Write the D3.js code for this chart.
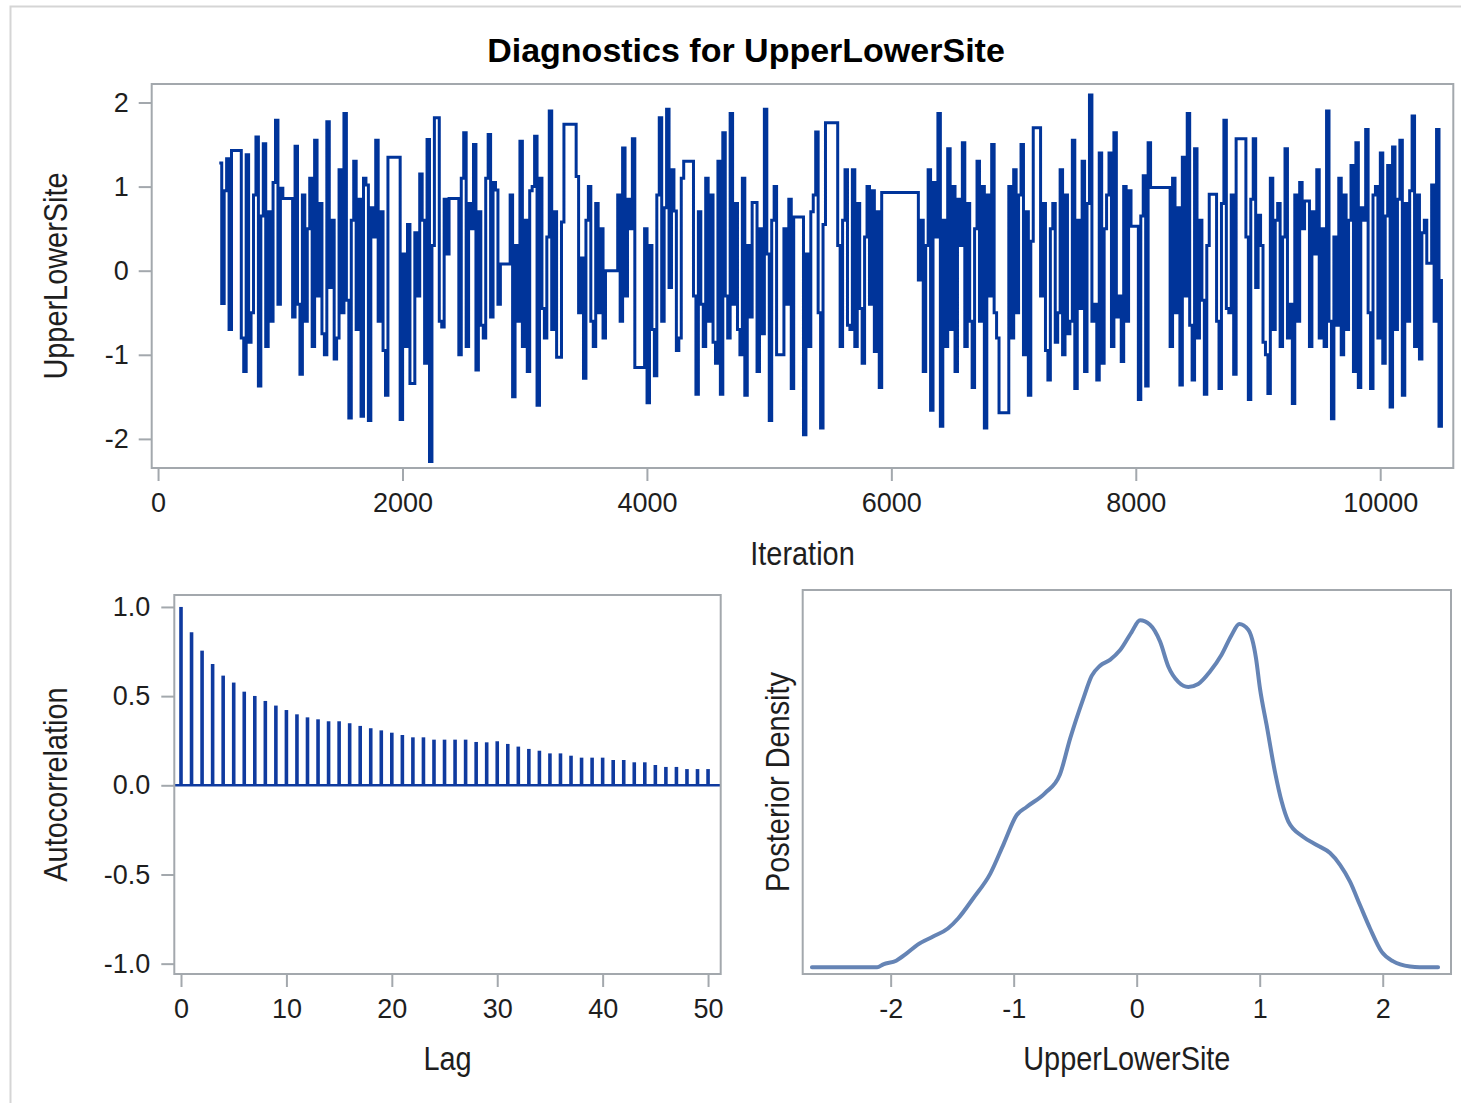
<!DOCTYPE html>
<html>
<head>
<meta charset="utf-8">
<script src="https://cdn.jsdelivr.net/npm/d3@7"></script>
<style>
    body { margin: 0; background: #ffffff; }
</style>
</head>
<body>
<script>
let svgWidth = 1461;
let svgHeight = 1103;

let fontFamily = '"Liberation Sans", Arial, sans-serif';
let frameColor = "#a3a8ad";
let textColor = "#1e1e1e";
let traceColor = "#00349a";
let densityColor = "#6584b5";

let titleText = "Diagnostics for UpperLowerSite";
let paramName = "UpperLowerSite";

// trace: chain thinned to one value every 20 iterations
let traceStart = 501;
let traceThin = 20;
let traceValues = [
    1.28, -0.39, 0.95, 1.33, -0.70,   1.43, 1.43, 1.43, 1.43, -0.80,
    -1.20, 1.38, -0.85, -0.50, 0.90,  1.59, -1.37, 0.65, 1.51, -0.90,
    0.70, -0.60, 1.05, 1.79, -0.40,   0.98, 0.86, 0.86, 0.86, 0.86,
    -0.55, 1.48, -0.40, -1.23, 0.90,  -0.60, 0.50, 1.10, -0.90, 1.55,
    -0.30, 0.80, -0.75, -1.00, 1.77,  -0.20, 0.60, -1.05, -0.80, 1.20,
    -0.50, 1.87, -0.35, -1.75, 0.60,  1.30, -0.70, 0.85, -1.73, 1.10,
    1.02, -1.78, 0.75, 0.40, 1.55,    -0.60, 0.70, -0.95, -1.48, 1.35,
    1.35, 1.35, 1.35, 1.35, -1.77,    0.20, -0.90, 0.55, -1.34, -1.34,
    0.45, -0.30, 1.15, 0.60, -1.10,   1.56, -2.27, 0.30, 1.82, 1.82,
    -0.60, -0.67, 0.85, 0.20, 0.86,   0.86, 0.86, 0.86, -1.00, 1.10,
    1.64, -0.90, 0.80, 0.50, 1.50,    -1.18, 0.70, -0.65, -0.80, 1.10,
    1.62, -0.55, 1.05, 0.96, -0.40,   0.08, 0.08, 0.08, 0.08, 0.90,
    -1.50, 0.30, -0.60, 1.54, -0.90,  0.60, -1.20, 0.95, 1.00, 1.60,
    -1.60, 1.10, -0.45, -0.80, 0.40,  1.90, -0.70, 0.70, -1.03, -1.03,
    0.58, 1.74, 1.74, 1.74, 1.74,     1.74, 1.12, -0.50, 0.15, -1.28,
    0.60, 1.00, -0.60, -0.90, 0.80,   -0.50, 0.50, -0.80, 0.00, 0.00,
    0.00, 0.00, 0.00, 0.90, -0.60,    1.46, -0.30, 0.85, 0.50, 1.57,
    -1.15, -1.15, -1.15, -1.15, 0.50, -1.57, 0.30, -0.70, -1.25, 0.90,
    1.82, -0.60, 0.75, 1.92, -0.20,   1.20, 0.71, -0.95, -0.80, 1.10,
    1.30, 1.30, 1.30, 1.30, -0.30,    -1.47, 0.70, -0.40, -0.90, 1.10,
    -0.60, 0.90, -0.85, -1.10, 1.30,  -1.47, 1.64, -0.30, -0.80, 1.87,
    -0.40, 0.80, -0.70, -1.00, 1.10,  -1.48, 0.30, -0.55, 0.81, 0.81,
    -1.20, 0.50, -0.75, 1.92, 0.20,   -1.78, 0.60, 1.00, -1.00, -1.00,
    -1.00, 0.50, -0.40, 0.85, -1.40,  0.64, 0.64, 0.64, 0.64, -1.95,
    0.20, -0.90, 0.70, 0.90, 1.65,    -0.50, -1.87, 0.55, 1.76, 1.76,
    1.76, 1.76, 1.76, 0.30, -0.90,    0.60, 1.20, -0.65, -0.70, 1.20,
    -0.90, 0.80, -0.45, -1.10, 0.40,  1.00, -0.40, 0.95, -0.96, 0.70,
    -1.39, 0.93, 0.93, 0.93, 0.93,    0.93, 0.93, 0.93, 0.93, 0.93,
    0.93, 0.93, 0.93, 0.93, 0.93,     0.93, -0.11, 0.60, -1.20, 0.30,
    1.20, -1.66, 1.05, 0.40, 1.87,    -1.85, 0.60, -0.90, 1.45, -0.70,
    1.00, -1.20, 0.85, 0.30, 1.52,    -0.90, 0.80, -0.60, -1.39, 0.50,
    1.30, -0.60, 1.00, -1.87, 0.90,   -0.30, 1.50, -0.50, -0.80, -1.69,
    -1.69, -1.69, -1.69, 1.00, -0.80, 1.20, -0.50, 0.90, 1.50, -1.00,
    0.70, -1.48, 0.35, 1.70, 1.70,    1.70, -0.30, 0.80, -0.95, -1.30,
    0.50, 0.80, -0.85, -0.50, 1.20,   -1.00, 0.90, -0.75, -0.60, 1.55,
    -1.40, 0.60, -0.45, 1.30, -1.20,  0.80, 2.09, -0.60, -0.40, -1.30,
    1.40, -1.10, 0.50, 0.90, 1.40,    -0.90, 1.64, -0.55, -0.30, -1.08,
    1.00, -0.60, 0.95, 0.53, 0.53,    0.53, -1.53, 0.65, 1.13, -1.37,
    1.52, 0.99, 0.99, 0.99, 0.99,     0.99, 0.99, 0.99, 0.99, -0.90,
    1.10, -0.50, 0.75, -1.36, 1.35,   -0.30, 1.87, -0.65, -1.30, 1.45,
    -0.80, 0.60, -0.35, -1.47, 0.30,  0.91, 0.91, 0.91, -0.60, -1.40,
    0.80, 1.79, -0.45, -0.50, 0.90,   -1.23, 1.57, 1.57, 1.57, 1.57,
    0.40, -1.53, 0.85, 1.57, -0.20,   0.66, 0.30, -0.85, -1.00, -1.46,
    1.10, -0.70, 0.60, 0.80, -0.90,   0.40, 1.45, -0.80, -0.40, -1.58,
    0.90, -0.60, 1.05, 0.50, 0.83,    0.83, -0.90, 0.70, 0.20, 1.20,
    -0.80, 0.50, -0.90, 1.90, -0.60,  -1.76, 0.40, -0.65, 1.10, -1.00,
    0.90, -0.70, 0.60, 1.25, -1.20,   1.52, -1.39, 0.75, 0.60, 1.68,
    -0.50, -1.40, 0.90, 1.00, -0.80,  1.40, -1.10, 0.65, 1.25, -1.62,
    1.47, -0.70, 0.85, 1.55, -1.48,   0.80, -0.60, 0.95, 1.84, -0.90,
    0.90, -1.05, 0.45, 0.60, 0.09,    0.09, 1.02, -0.60, 1.68, -1.85,
    -0.10
];
let traceXTicks = [0, 2000, 4000, 6000, 8000, 10000];
let traceYTicks = [-2, -1, 0, 1, 2];

// autocorrelation for lags 0..50
let acfValues = [
    1.000, 0.858, 0.755, 0.680, 0.615, 0.576, 0.525, 0.501, 0.473, 0.447,
    0.422, 0.398, 0.381, 0.370, 0.359, 0.359, 0.348, 0.333, 0.320, 0.308,
    0.295, 0.282, 0.269, 0.269, 0.256, 0.256, 0.256, 0.256, 0.243, 0.241,
    0.247, 0.232, 0.217, 0.204, 0.194, 0.179, 0.179, 0.166, 0.155, 0.155,
    0.155, 0.142, 0.142, 0.129, 0.129, 0.114, 0.103, 0.103, 0.091, 0.091,
    0.091
];
let acfXTicks = [0, 10, 20, 30, 40, 50];
let acfYTicks = [-1, -0.5, 0, 0.5, 1];

// kernel density of the posterior sample
let densityX = [
    -2.64, -2.11, -2.06, -1.955, -1.87, -1.78, -1.655, -1.535, -1.45, -1.33,
    -1.19, -1.08, -0.975, -0.895, -0.745, -0.625, -0.54, -0.434, -0.366, -0.298,
    -0.217, -0.136, -0.041, 0.027, 0.108, 0.19, 0.257, 0.338, 0.42, 0.50,
    0.596, 0.69, 0.772, 0.834, 0.907, 0.97, 1.002, 1.056, 1.124, 1.179,
    1.233, 1.355, 1.463, 1.572, 1.653, 1.734, 1.815, 1.897, 1.992, 2.086,
    2.222, 2.30, 2.45
];
let densityY = [
    0.000, 0.000, 0.004, 0.009, 0.019, 0.031, 0.042, 0.053, 0.067, 0.094,
    0.128, 0.169, 0.208, 0.219, 0.238, 0.263, 0.313, 0.367, 0.398, 0.412,
    0.420, 0.433, 0.458, 0.474, 0.468, 0.445, 0.411, 0.390, 0.383, 0.387,
    0.404, 0.427, 0.454, 0.469, 0.461, 0.422, 0.381, 0.331, 0.267, 0.226,
    0.199, 0.178, 0.167, 0.156, 0.140, 0.117, 0.085, 0.053, 0.021, 0.008,
    0.001, 0.000, 0.000
];
let densityXTicks = [-2, -1, 0, 1, 2];

// panel frames
let tracePanel = { left: 151.7, right: 1453.3, top: 84, bottom: 468 };
let acfPanel = { left: 174.3, right: 720.7, top: 595, bottom: 974 };
let densityPanel = { left: 802.7, right: 1451, top: 590, bottom: 974 };

let svg = d3.select('body')
    .append("svg")
    .attr("width", svgWidth)
    .attr("height", svgHeight)
    .style("font-family", fontFamily);

// outer graph border
svg.append("rect")
    .attr("x", 10.5)
    .attr("y", 6.5)
    .attr("width", 1490)
    .attr("height", 1130)
    .attr("fill", "none")
    .attr("stroke", "#d5d5d5")
    .attr("stroke-width", 2);

svg.append("text")
    .attr("x", 746)
    .attr("y", 62)
    .attr("text-anchor", "middle")
    .attr("font-size", 34)
    .attr("font-weight", "bold")
    .attr("fill", "#000")
    .text(titleText);

function drawFrame(p) {
    svg.append("rect")
        .attr("x", p.left)
        .attr("y", p.top)
        .attr("width", p.right - p.left)
        .attr("height", p.bottom - p.top)
        .attr("fill", "none")
        .attr("stroke", frameColor)
        .attr("stroke-width", 2);
}

function styleAxis(g) {
    g.attr("font-size", 27).attr("font-family", fontFamily);
    g.select(".domain").remove();
    g.selectAll(".tick line")
        .attr("stroke", frameColor)
        .attr("stroke-width", 2);
    g.selectAll(".tick text").attr("fill", textColor);
}

function axisTitle(x, y, label, rotated) {
    svg.append("text")
        .attr("transform", `translate(${x}, ${y})` + (rotated ? " rotate(-90)" : "") + " scale(0.85, 1)")
        .attr("text-anchor", "middle")
        .attr("font-size", 34)
        .attr("fill", textColor)
        .text(label);
}

let intFormat = d => String(d);
let oneDecimal = d => d.toFixed(1);

// ---- Trace plot ----
let xTrace = d3.scaleLinear()
    .domain([-52, 10598])
    .range([tracePanel.left, tracePanel.right]);

let yTrace = d3.scaleLinear()
    .domain([-2.346, 2.220])
    .range([tracePanel.bottom, tracePanel.top]);

let traceLine = d3.line()
    .x((d, i) => xTrace(traceStart + i * traceThin))
    .y(d => yTrace(d))
    .curve(d3.curveStepAfter);

svg.append("path")
    .datum(traceValues)
    .attr("d", traceLine)
    .attr("fill", "none")
    .attr("stroke", traceColor)
    .attr("stroke-width", 3)
    .attr("stroke-linejoin", "miter");

drawFrame(tracePanel);

// X Axis
svg.append("g")
    .attr("transform", `translate(0, ${tracePanel.bottom})`)
    .call(d3.axisBottom(xTrace).tickValues(traceXTicks).tickFormat(intFormat)
        .tickSizeInner(13).tickSizeOuter(0).tickPadding(12))
    .call(styleAxis);

// Y Axis
svg.append("g")
    .attr("transform", `translate(${tracePanel.left}, 0)`)
    .call(d3.axisLeft(yTrace).tickValues(traceYTicks).tickFormat(intFormat)
        .tickSizeInner(13).tickSizeOuter(0).tickPadding(10))
    .call(styleAxis);

axisTitle((tracePanel.left + tracePanel.right) / 2, 565, "Iteration", false);
axisTitle(66.5, (tracePanel.top + tracePanel.bottom) / 2, paramName, true);

// ---- Autocorrelation plot ----
let xAcf = d3.scaleLinear()
    .domain([-0.636, 51.2])
    .range([acfPanel.left, acfPanel.right]);

let yAcf = d3.scaleLinear()
    .domain([-1.058, 1.067])
    .range([acfPanel.bottom, acfPanel.top]);

svg.append("g")
    .selectAll("line")
    .data(acfValues)
    .join("line")
    .attr("x1", (d, i) => xAcf(i))
    .attr("x2", (d, i) => xAcf(i))
    .attr("y1", yAcf(0))
    .attr("y2", d => yAcf(d))
    .attr("stroke", "#0f3a9f")
    .attr("stroke-width", 3.6);

svg.append("line")
    .attr("x1", acfPanel.left)
    .attr("x2", acfPanel.right)
    .attr("y1", yAcf(0))
    .attr("y2", yAcf(0))
    .attr("stroke", "#0f3a9f")
    .attr("stroke-width", 2.5);

drawFrame(acfPanel);

svg.append("g")
    .attr("transform", `translate(0, ${acfPanel.bottom})`)
    .call(d3.axisBottom(xAcf).tickValues(acfXTicks).tickFormat(intFormat)
        .tickSizeInner(13).tickSizeOuter(0).tickPadding(12))
    .call(styleAxis);

svg.append("g")
    .attr("transform", `translate(${acfPanel.left}, 0)`)
    .call(d3.axisLeft(yAcf).tickValues(acfYTicks).tickFormat(oneDecimal)
        .tickSizeInner(13).tickSizeOuter(0).tickPadding(11))
    .call(styleAxis);

axisTitle((acfPanel.left + acfPanel.right) / 2, 1070, "Lag", false);
axisTitle(66.5, (acfPanel.top + acfPanel.bottom) / 2, "Autocorrelation", true);

// ---- Posterior density plot ----
let xDens = d3.scaleLinear()
    .domain([-2.715, 2.555])
    .range([densityPanel.left, densityPanel.right]);

let yDens = d3.scaleLinear()
    .domain([-0.0092, 0.5154])
    .range([densityPanel.bottom, densityPanel.top]);

let densityLine = d3.line()
    .x((d, i) => xDens(densityX[i]))
    .y(d => yDens(d))
    .curve(d3.curveMonotoneX);

svg.append("path")
    .datum(densityY)
    .attr("d", densityLine)
    .attr("fill", "none")
    .attr("stroke", densityColor)
    .attr("stroke-width", 4)
    .attr("stroke-linecap", "round")
    .attr("stroke-linejoin", "round");

drawFrame(densityPanel);

svg.append("g")
    .attr("transform", `translate(0, ${densityPanel.bottom})`)
    .call(d3.axisBottom(xDens).tickValues(densityXTicks).tickFormat(intFormat)
        .tickSizeInner(13).tickSizeOuter(0).tickPadding(12))
    .call(styleAxis);

axisTitle((densityPanel.left + densityPanel.right) / 2, 1070, paramName, false);
axisTitle(789, (densityPanel.top + densityPanel.bottom) / 2, "Posterior Density", true);
</script>
</body>
</html>
